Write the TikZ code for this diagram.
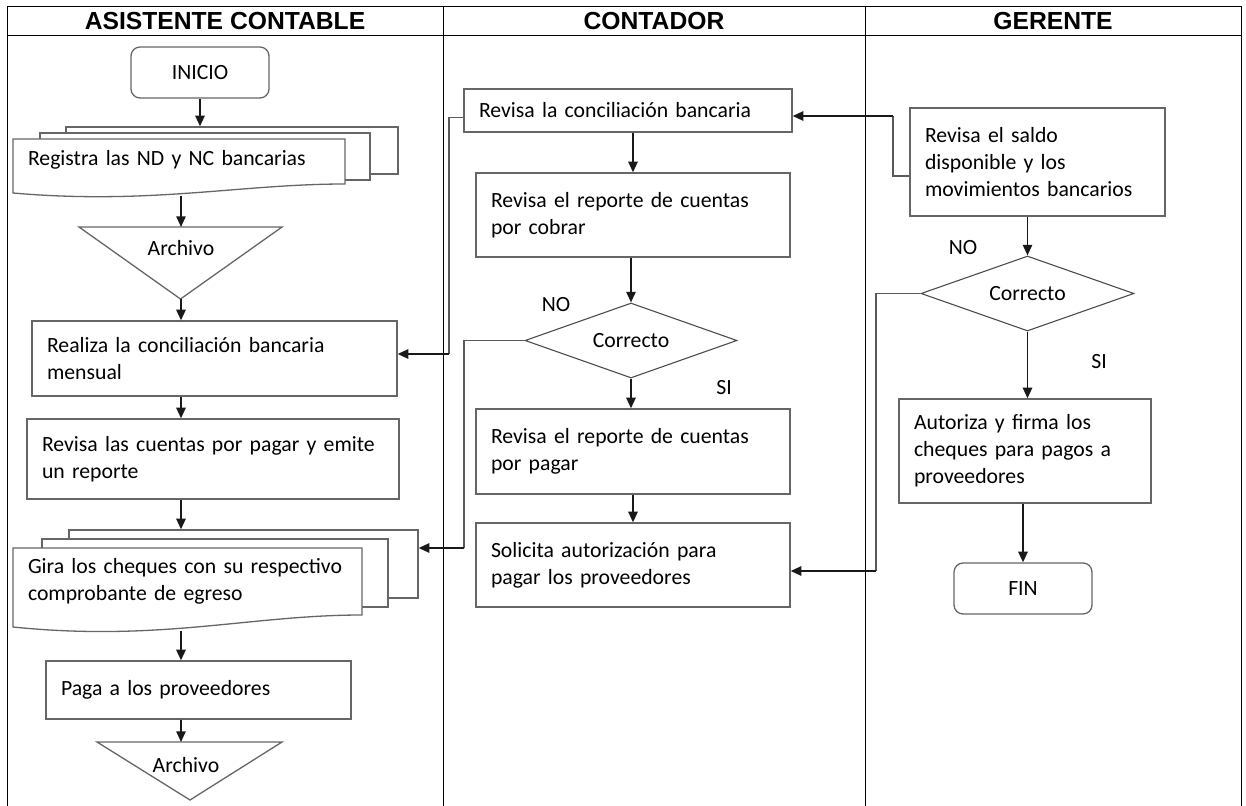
\documentclass[tikz,border=0pt]{standalone}
\usepackage{fontspec}
\setmainfont{Carlito}
\newfontfamily\cabecera{Liberation Sans}
\usetikzlibrary{arrows.meta}
\usetikzlibrary{calc}
\usetikzlibrary{shapes.geometric}

\newdimen\pxu
\pxu=0.75pt
\newcommand{\letra}{\fontsize{16.3}{20.3}\selectfont\hyphenpenalty=10000}

\tikzset{
  marco/.style={black, line width=1\pxu},
  titulo/.style={font=\cabecera\bfseries\fontsize{18.5}{22}\selectfont, inner sep=0pt},
  caja/.style 2 args={draw=black!60, line width=1.3\pxu, fill=white, rectangle,
    minimum width=#1\pxu, text width=#2\pxu, inner xsep=15\pxu, inner ysep=0pt,
    align=left, font=\letra},
  hoja/.style={draw=black!60, line width=1.3\pxu, fill=white},
  texto/.style={font=\letra, inner sep=0pt},
  extremo/.style={draw=black!60, line width=1.3\pxu, rounded corners=9\pxu,
    minimum width=138\pxu, minimum height=51\pxu, font=\letra},
  decision/.style={draw=black!70, line width=1.1\pxu, diamond, aspect=2.8, inner sep=0pt,
    minimum width=212\pxu, minimum height=75\pxu, font=\letra},
  flecha/.style={-{Triangle[length=8pt,width=7pt]}, line width=1.7\pxu, black!90},
  linea/.style={line width=1.2\pxu, black!65}
}

\begin{document}
\begin{tikzpicture}[x=0.75pt,y=-0.75pt]
\useasboundingbox (0,0) rectangle (1246,806);

% carriles
\draw[marco] (7,806) -- (7,7) -- (1241,7) -- (1241,806);
\draw[marco] (7,36) -- (1241,36);
\draw[marco] (443,7) -- (443,806);
\draw[marco] (865,7) -- (865,806);
\node[titulo] (asis) at (225,21) {ASISTENTE CONTABLE};
\node[titulo] (cont) at (654,21) {CONTADOR};
\node[titulo] (ger) at (1053,21) {GERENTE};

% asistente contable
\node[extremo] (inicio) at (200,72.5) {INICIO};
\node[caja={332}{302}, minimum height=47\pxu] (reg3) at (232,150.5) {};
\node[caja={330}{300}, minimum height=47\pxu] (reg2) at (205,156.5) {};
\draw[hoja] (13,139) -- (345,139) -- (345,184) .. controls (240,184) and (150,205) .. (13,193) -- cycle
  (179,159.5) node[caja={332}{302}, draw=none, fill=none, minimum height=41\pxu] (reg) {Registra las ND y NC bancarias};
\coordinate (regb) at (181,196);

\draw[hoja] (79,227) -- (282,227) -- (180.5,299) -- cycle
  (181,248) node[texto] (arch1) {Archivo};
\coordinate (arch1t) at (181,227);
\coordinate (arch1b) at (181,299);

\node[caja={365}{335}, minimum height=75\pxu] (realiza) at (214.5,358.5) {Realiza la conciliación bancaria\\mensual};
\node[caja={372}{342}, minimum height=80\pxu] (revcp) at (213,459) {Revisa las cuentas por pagar y emite\\un reporte};

\node[caja={349}{319}, minimum height=68\pxu] (gira3) at (243.5,564) {};
\node[caja={346}{316}, minimum height=68\pxu] (gira2) at (215,573) {};
\draw[hoja] (13,548) -- (362,548) -- (362,615) .. controls (250,615) and (160,642) .. (13,627) -- cycle
  (187.5,581.5) node[caja={349}{329}, inner xsep=10\pxu, draw=none, fill=none, minimum height=67\pxu] (gira) {\hspace*{5\pxu}Gira los cheques con su respectivo\\\hspace*{5\pxu}comprobante de egreso};
\coordinate (girab) at (181,631);

\node[caja={305}{275}, minimum height=58\pxu] (paga) at (198.5,690) {Paga a los proveedores\\[6\pxu]};

\draw[hoja] (97,742) -- (282,742) -- (190,800) -- cycle
  (186,765) node[texto] (arch2) {Archivo};
\coordinate (arch2t) at (181,742);

\draw[flecha] (inicio.south) -- (inicio.south |- reg3.north);
\draw[flecha] (regb) -- (arch1t);
\draw[flecha] (arch1b) -- (arch1b |- realiza.north);
\draw[flecha] (arch1b |- realiza.south) -- (arch1b |- revcp.north);
\draw[flecha] (arch1b |- revcp.south) -- (arch1b |- gira3.north);
\draw[flecha] (girab) -- (girab |- paga.north);
\draw[flecha] (girab |- paga.south) -- (arch2t);

% contador
\node[caja={328}{298}, minimum height=43\pxu] (revcb) at (628,110.5) {Revisa la conciliación bancaria};
\node[caja={314}{284}, minimum height=84\pxu] (revrep) at (633,215) {Revisa el reporte de cuentas\\por cobrar\\[8\pxu]};
\node[decision] (dec1) at (631,340.5) {Correcto};
\node[caja={314}{284}, minimum height=85\pxu] (revpag) at (633,451.5) {Revisa el reporte de cuentas\\por pagar\\[8\pxu]};
\node[caja={314}{284}, minimum height=84\pxu] (solic) at (633,565) {Solicita autorización para\\pagar los proveedores\\[8\pxu]};
\node[texto] (no1) at (556,305) {NO};
\node[texto] (si1) at (724,388) {SI};

\draw[flecha] (revcb.south -| revrep.north) -- (revrep.north);
\draw[flecha] (dec1.north |- revrep.south) -- (dec1.north);
\draw[flecha] (dec1.south) -- (dec1.south |- revpag.north);
\draw[flecha] (revpag.south) -- (solic.north);

\coordinate (b1) at (449,354);
\draw[linea] ($(revcb.west)+(0,7)$) -| (b1);
\draw[flecha] (b1) -- (b1 -| realiza.east);
\coordinate (b2) at (464,548);
\draw[linea] (dec1.west) -| (b2);
\draw[flecha] (b2) -- (b2 -| gira3.east);

% gerente
\node[caja={255}{225}, minimum height=108\pxu] (saldo) at (1037.5,162) {Revisa el saldo\\disponible y los\\movimientos bancarios\\[6\pxu]};
\node[decision, minimum width=213\pxu] (dec2) at (1027.5,293.5) {Correcto};
\node[caja={252}{222}, minimum height=104\pxu] (aut) at (1025,451) {Autoriza y firma los\\cheques para pagos a\\proveedores\\[4\pxu]};
\node[extremo] (fin) at (1023,588.5) {FIN};
\node[texto] (no2) at (963,248) {NO};
\node[texto] (si2) at (1099,362) {SI};

\draw[flecha] (dec2.north |- saldo.south) -- (dec2.north);
\draw[flecha] (dec2.south) -- (dec2.south |- aut.north);
\draw[flecha] (fin.north |- aut.south) -- (fin.north);

\coordinate (b3) at (893,116);
\draw[linea] ($(saldo.west)+(0,14)$) -| (b3);
\draw[flecha] (b3) -- (b3 -| revcb.east);
\coordinate (b4) at (876,571);
\draw[linea] (dec2.west) -| (b4);
\draw[flecha] (b4) -- (b4 -| solic.east);
\end{tikzpicture}
\end{document}
